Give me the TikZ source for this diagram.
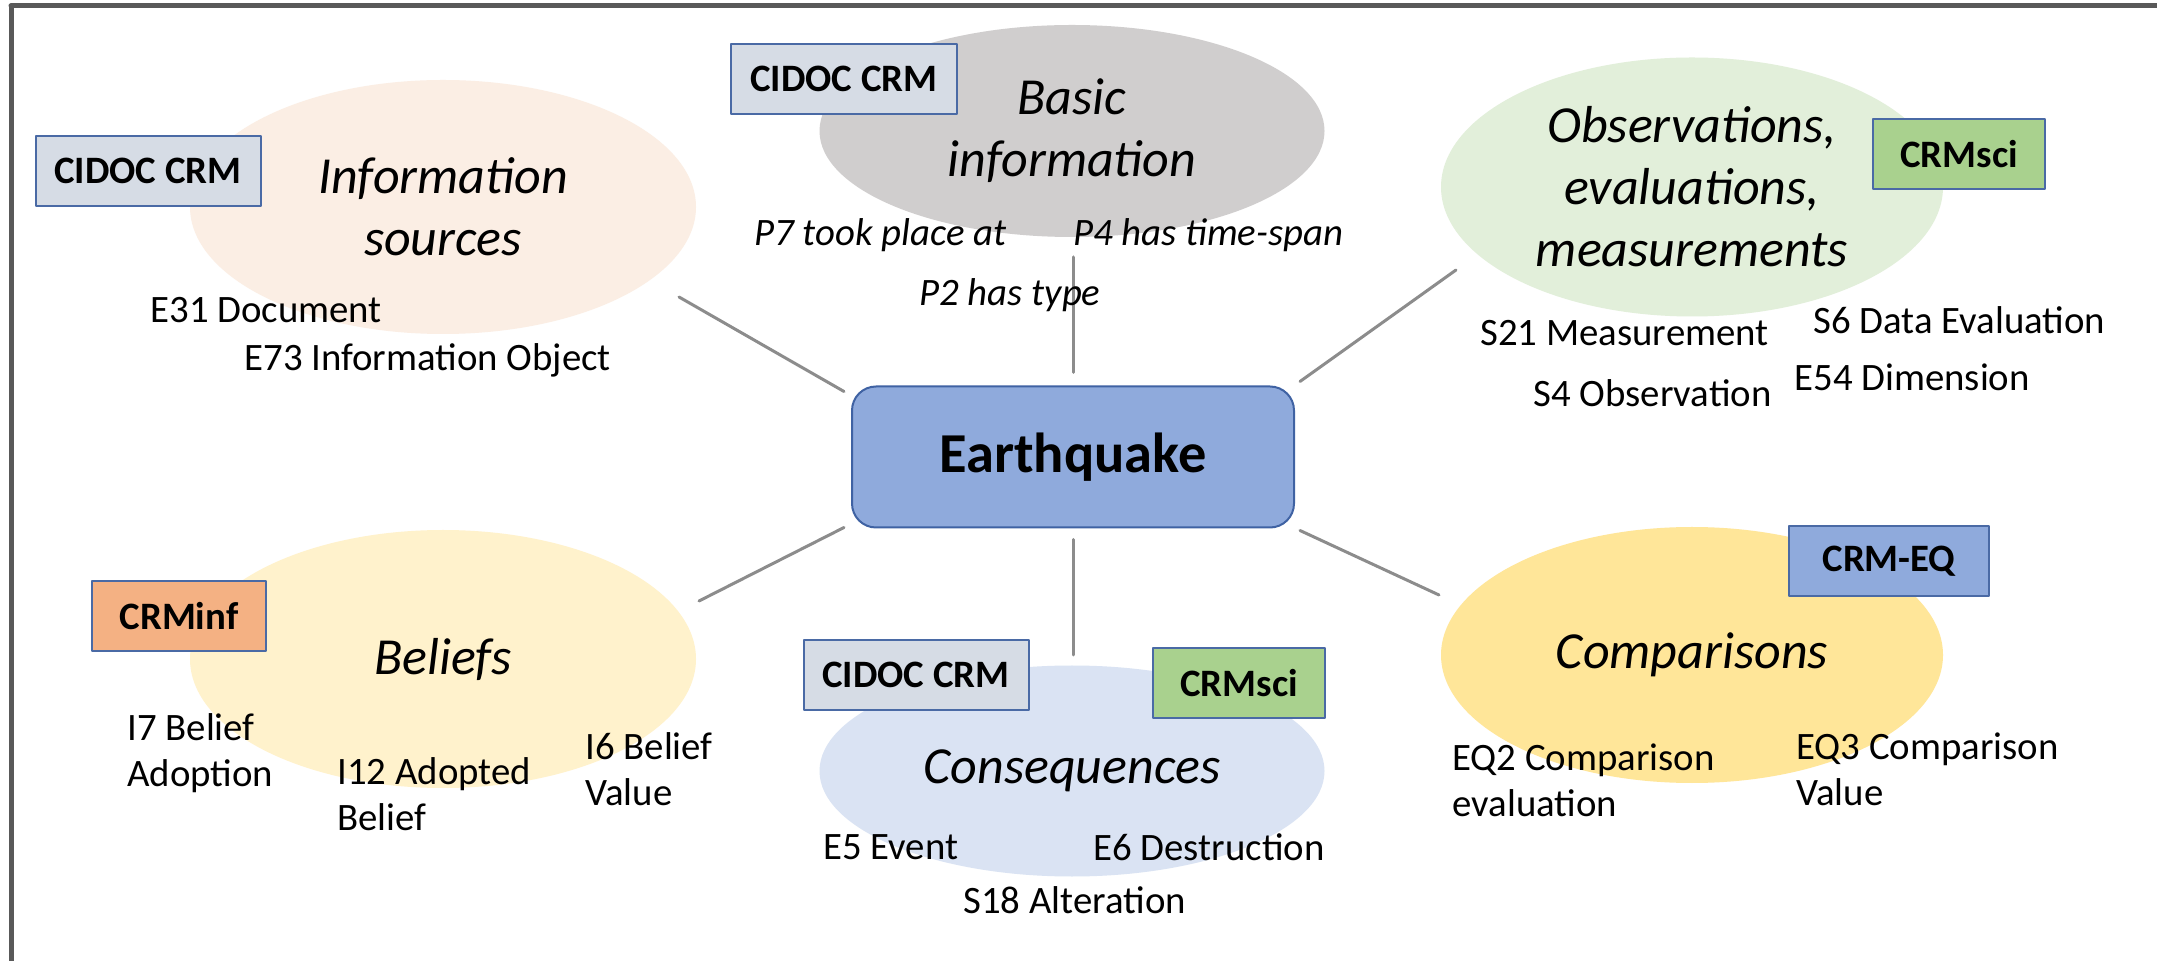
\documentclass[tikz,border=0pt]{standalone}
\usepackage{fontspec}
\setmainfont{Carlito}
\usetikzlibrary{shapes.geometric}
\definecolor{framegray}{HTML}{595959}
\definecolor{linkgray}{HTML}{8C8C8C}
\definecolor{tagline}{HTML}{4A6AA5}
\definecolor{eqline}{HTML}{3F62A3}
\definecolor{eqfill}{HTML}{8FAADC}
\definecolor{cidocfill}{HTML}{D6DCE5}
\definecolor{scifill}{HTML}{A9D18E}
\definecolor{inffill}{HTML}{F4B183}
\definecolor{infofill}{HTML}{FBEEE4}
\definecolor{basicfill}{HTML}{D0CECE}
\definecolor{obsfill}{HTML}{E2EFDA}
\definecolor{belfill}{HTML}{FFF2CC}
\definecolor{consfill}{HTML}{DAE3F3}
\definecolor{compfill}{HTML}{FFE699}
\begin{document}
\begin{tikzpicture}[line cap=round,line join=round,x=0.5pt,y=-0.5pt,
  blob/.style={ellipse,inner sep=0pt,align=center,font=\fontsize{26}{31}\selectfont\itshape},
  tag/.style={draw=tagline,line width=1pt,inner sep=0pt,minimum height=35pt,font=\fontsize{19.4}{23}\selectfont\bfseries},
  txt/.style={inner sep=0pt,anchor=west,font=\fontsize{19.4}{23}\selectfont},
  txtb/.style={inner sep=0pt,anchor=north west,align=left,font=\fontsize{19.4}{23}\selectfont},
  link/.style={draw=linkgray,line width=1.5pt}]
\useasboundingbox (0,0) rectangle (2157,961);
\fill[white] (0,0) rectangle (2157,961);
\draw[line width=2.5pt,color=framegray] (11,6) -- (2160,6);
\draw[line width=2.5pt,color=framegray] (11,6) -- (11,965);
\node[blob,fill=infofill,minimum width=253pt,minimum height=127pt] (info) at (443,207) {Information\\sources};
\node[blob,fill=basicfill,minimum width=252.5pt,minimum height=106pt] (basic) at (1072,131) {Basic\\information};
\node[blob,fill=obsfill,minimum width=251pt,minimum height=129.5pt] (obs) at (1692,187) {Observations,\\evaluations,\\measurements};
\node[blob,fill=belfill,minimum width=253pt,minimum height=129pt] (bel) at (443,659) {Beliefs};
\node[blob,fill=consfill,minimum width=252.5pt,minimum height=105.5pt] (cons) at (1072,771) {Consequences};
\node[blob,fill=compfill,minimum width=251pt,minimum height=128pt] (comp) at (1692,655) {Comparisons};
\node[draw=eqline,fill=eqfill,line width=1pt,rounded corners=12pt,minimum width=221pt,minimum height=70.5pt,font=\fontsize{28.2}{34}\selectfont\bfseries] (eq) at (1073,457) {Earthquake};
\coordinate (infoend) at (679,297);
\coordinate (basicend) at (1073,257);
\coordinate (obsend) at (1456,270);
\coordinate (belend) at (699,601);
\coordinate (consend) at (1073,655);
\coordinate (compend) at (1439,595);
\draw[link] ([shift={(-7,6)}]eq.north west) -- (infoend);
\draw[link] ([shift={(0,-13)}]eq.north) -- (basicend);
\draw[link] ([shift={(5,-4)}]eq.north east) -- (obsend);
\draw[link] ([shift={(-7,-1)}]eq.south west) -- (belend);
\draw[link] ([shift={(0,11)}]eq.south) -- (consend);
\draw[link] ([shift={(5,2)}]eq.south east) -- (compend);
\node[tag,fill=cidocfill,minimum width=112.5pt] (infotag) at (148,171) {CIDOC CRM};
\node[tag,fill=cidocfill,minimum width=113pt] (basictag) at (844,79) {CIDOC CRM};
\node[tag,fill=scifill,minimum width=86pt] (obstag) at (1959,154) {CRMsci};
\node[tag,fill=inffill,minimum width=87pt] (beltag) at (179,616) {CRMinf};
\node[tag,fill=cidocfill,minimum width=112.5pt] (constag) at (916,675) {CIDOC CRM};
\node[tag,fill=scifill,minimum width=86pt] (conssci) at (1239,683) {CRMsci};
\node[tag,fill=eqfill,minimum width=100pt] (comptag) at (1889,561) {CRM-EQ};
\node[txt] (e31) at (150,310) {E31 Document};
\node[txt] (e73) at (244,360) {E73 Information Object};
\node[txt,font=\fontsize{19.4}{23}\selectfont\itshape] (p7) at (754,235) {P7 took place at};
\node[txt,font=\fontsize{19.4}{23}\selectfont\itshape] (p4) at (1073,235) {P4 has time-span};
\node[txt,font=\fontsize{19.4}{23}\selectfont\itshape] (p2) at (919,295) {P2 has type};
\node[txt] (s21) at (1480,333) {S21 Measurement};
\node[txt] (s6) at (1813,320) {S6 Data Evaluation};
\node[txt] (e54) at (1794,377) {E54 Dimension};
\node[txt] (s4) at (1533,393) {S4 Observation};
\node[txtb] (i7) at (127,713) {I7 Belief\\Adoption};
\node[txtb] (i12) at (337,757) {I12 Adopted\\Belief};
\node[txtb] (i6) at (585,732) {I6 Belief\\Value};
\node[txt] (e5) at (823,847) {E5 Event};
\node[txt] (e6) at (1093,847) {E6 Destruction};
\node[txt] (s18) at (963,900) {S18 Alteration};
\node[txtb] (eq2) at (1452,743) {EQ2 Comparison\\evaluation};
\node[txtb] (eq3) at (1796,732) {EQ3 Comparison\\Value};
\end{tikzpicture}
\end{document}
